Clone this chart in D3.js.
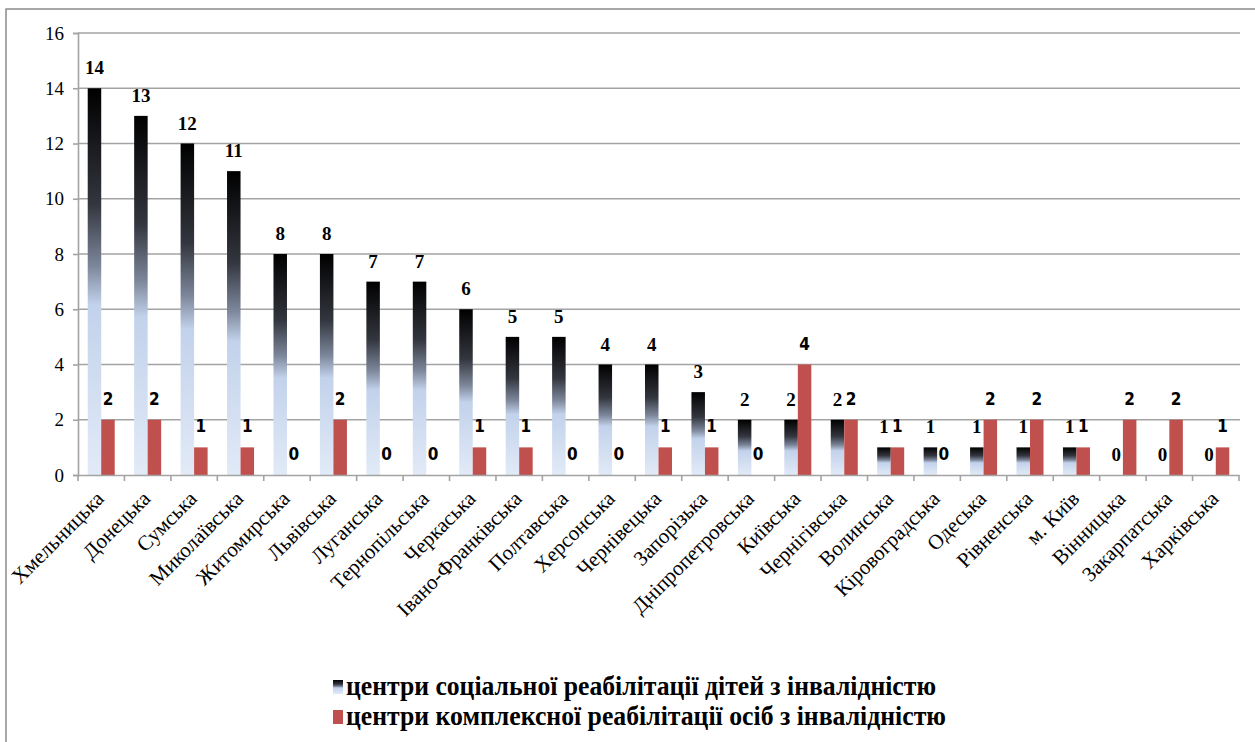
<!DOCTYPE html>
<html>
<head>
<meta charset="utf-8">
<script src="https://cdn.jsdelivr.net/npm/d3@7"></script>
<style>
  body { margin: 0; background: #fff; }
  svg { display: block; }
  svg text { font-family: 'Liberation Serif', 'Times New Roman', 'DejaVu Serif', serif; fill: #000; }
  svg text.narrow { font-family: 'Liberation Sans Narrow', 'Arial Narrow', 'DejaVu Sans Condensed', sans-serif; }
</style>
</head>
<body>
<svg id="chart" width="1255" height="742"></svg>
<script>
var regions = ['Хмельницька', 'Донецька', 'Сумська', 'Миколаївська', 'Житомирська', 'Львівська',
  'Луганська', 'Тернопільська', 'Черкаська', 'Івано-Франківська', 'Полтавська', 'Херсонська',
  'Чернівецька', 'Запорізька', 'Дніпропетровська', 'Київська', 'Чернігівська', 'Волинська',
  'Кіровоградська', 'Одеська', 'Рівненська', 'м. Київ', 'Вінницька', 'Закарпатська', 'Харківська'];
var childCenters = [14, 13, 12, 11, 8, 8, 7, 7, 6, 5, 5, 4, 4, 3, 2, 2, 2, 1, 1, 1, 1, 1, 0, 0, 0];
var complexCenters = [2, 2, 1, 1, 0, 2, 0, 0, 1, 1, 0, 0, 1, 1, 0, 4, 2, 1, 0, 2, 2, 1, 2, 2, 1];
var yTicks = [0, 2, 4, 6, 8, 10, 12, 14, 16];
var seriesNames = ['центри соціальної реабілітації дітей з інвалідністю',
  'центри комплексної реабілітації осіб з інвалідністю'];

var svg = d3.select('#chart');

// gradient for the first series, black at the top to pale blue at the bottom
var grad = svg.append('defs').append('linearGradient')
  .attr('id', 'darkBlue')
  .attr('x1', 0).attr('y1', 0).attr('x2', 0).attr('y2', 1);
[[0, '#000000'], [0.3, '#33363e'], [0.46, '#7d879b'], [0.56, '#c2d2eb'], [1, '#e2eaf7']].forEach(function(s) {
  grad.append('stop').attr('offset', s[0]).attr('stop-color', s[1]);
});

// outer frame
svg.append('rect')
  .attr('x', 6).attr('y', 9).attr('width', 1260).attr('height', 760)
  .attr('fill', 'none').attr('stroke', '#8c8c8c').attr('stroke-width', 1.5);

var x = d3.scaleBand().domain(regions).range([78, 1239]);
var y = d3.scaleLinear().domain([0, 16]).range([475, 33]);
var barW = 13.5;
var inset = (x.bandwidth() - 2 * barW) / 2;

// gridlines
svg.append('g').selectAll('line')
  .data(yTicks.slice(1))
  .enter().append('line')
  .attr('x1', 78).attr('x2', 1240)
  .attr('y1', function(d) { return y(d); })
  .attr('y2', function(d) { return y(d); })
  .attr('stroke', '#a3a3a3').attr('stroke-width', 1.6);

// y axis
var yAxis = svg.append('g')
  .attr('transform', 'translate(78,0)')
  .call(d3.axisLeft(y).tickValues(yTicks).tickSize(5).tickPadding(9));
yAxis.attr('font-family', null).attr('font-size', null);
yAxis.select('.domain').attr('stroke', '#a3a3a3').attr('stroke-width', 1.6);
yAxis.selectAll('.tick line').attr('stroke', '#a3a3a3').attr('stroke-width', 1.6);
yAxis.selectAll('.tick text').style('font-size', '19px');

// bars
var groups = svg.append('g').selectAll('g')
  .data(regions)
  .enter().append('g')
  .attr('transform', function(d) { return 'translate(' + x(d) + ',0)'; });

groups.append('rect')
  .attr('x', inset)
  .attr('y', function(d, i) { return y(childCenters[i]); })
  .attr('width', barW)
  .attr('height', function(d, i) { return y(0) - y(childCenters[i]); })
  .attr('fill', 'url(#darkBlue)');

groups.append('rect')
  .attr('x', inset + barW)
  .attr('y', function(d, i) { return y(complexCenters[i]); })
  .attr('width', barW)
  .attr('height', function(d, i) { return y(0) - y(complexCenters[i]); })
  .attr('fill', '#c0504d');

// value labels
groups.append('text')
  .attr('x', inset + barW / 2)
  .attr('y', function(d, i) { return y(childCenters[i]) - 14; })
  .attr('text-anchor', 'middle')
  .style('font-weight', 'bold').style('font-size', '19px')
  .text(function(d, i) { return childCenters[i]; });

groups.append('text')
  .attr('class', 'narrow')
  .attr('x', inset + barW * 1.5)
  .attr('y', function(d, i) { return y(complexCenters[i]) - 15; })
  .attr('text-anchor', 'middle')
  .style('font-weight', 'bold').style('font-size', '17px')
  .text(function(d, i) { return complexCenters[i]; });

// x axis
var xAxis = svg.append('g')
  .attr('transform', 'translate(0,475)')
  .call(d3.axisBottom(x).tickSize(0).tickFormat(''));
xAxis.select('.domain').attr('stroke', '#a3a3a3').attr('stroke-width', 1.6);
svg.append('g').selectAll('line')
  .data(regions.concat(['end']))
  .enter().append('line')
  .attr('x1', function(d, i) { return 78 + i * x.step(); })
  .attr('x2', function(d, i) { return 78 + i * x.step(); })
  .attr('y1', 475).attr('y2', 481)
  .attr('stroke', '#a3a3a3').attr('stroke-width', 1.6);

svg.append('g').selectAll('text')
  .data(regions)
  .enter().append('text')
  .attr('transform', function(d) {
    return 'translate(' + (x(d) + x.bandwidth() / 2 + 4) + ',500) rotate(-45)';
  })
  .attr('text-anchor', 'end')
  .style('font-size', '21px')
  .text(function(d) { return d; });

// legend
var legend = svg.append('g').selectAll('g')
  .data(seriesNames)
  .enter().append('g')
  .attr('transform', function(d, i) { return 'translate(333,' + (680 + i * 30) + ')'; });
legend.append('rect')
  .attr('width', 10).attr('height', 14)
  .attr('fill', function(d, i) { return i === 0 ? 'url(#darkBlue)' : '#c0504d'; });
legend.append('text')
  .attr('x', 13).attr('y', 15)
  .attr('textLength', function(d, i) { return i === 0 ? 590 : 600; })
  .attr('lengthAdjust', 'spacingAndGlyphs')
  .style('font-weight', 'bold').style('font-size', '27px')
  .text(function(d) { return d; });
</script>
</body>
</html>
